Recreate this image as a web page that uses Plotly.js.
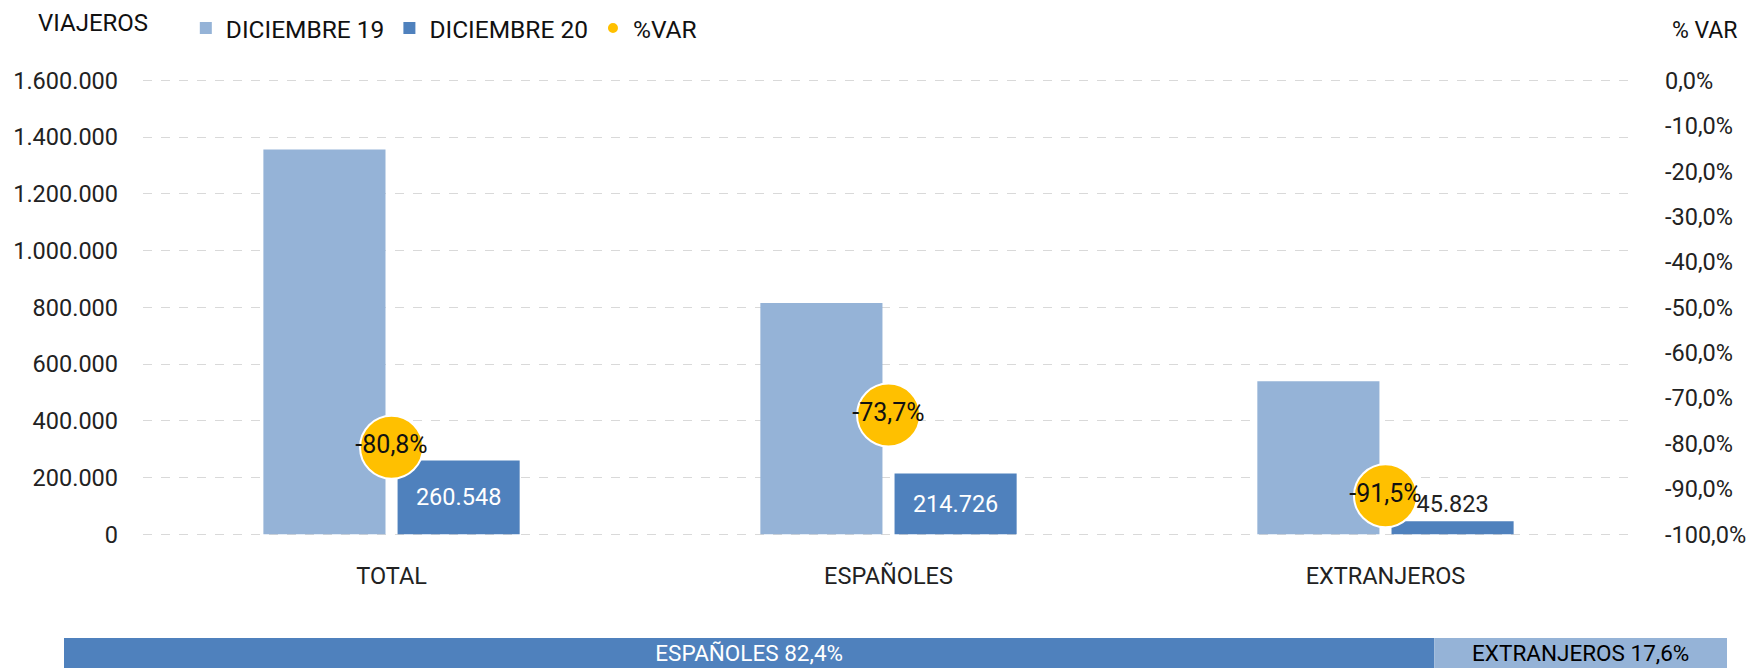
<!DOCTYPE html>
<html>
<head>
<meta charset="utf-8">
<script src="https://cdn.plot.ly/plotly-3.0.1.min.js"></script>
<style>
html,body{margin:0;padding:0;background:#fff;}
#chart{width:1753px;height:668px;}
</style>
</head>
<body>
<div id="chart"></div>
<script>
// ---- data ----
const categories = ['TOTAL', 'ESPAÑOLES', 'EXTRANJEROS'];
const dic19 = [1357000, 816000, 540000];
const dic20 = [260548, 214726, 45823];
const pctVar = [-0.808, -0.737, -0.915];
const shareLabels = ['ESPAÑOLES', 'EXTRANJEROS'];
const shareValues = [82.4, 17.6];
const seriesNames = ['DICIEMBRE 19', 'DICIEMBRE 20', '%VAR'];
const leftTickVals = [0, 200000, 400000, 600000, 800000, 1000000, 1200000, 1400000, 1600000];
const rightTickVals = [0, -0.1, -0.2, -0.3, -0.4, -0.5, -0.6, -0.7, -0.8, -0.9, -1.0];
const rightTickText = ['0,0%', '-10,0%', '-20,0%', '-30,0%', '-40,0%', '-50,0%', '-60,0%', '-70,0%', '-80,0%', '-90,0%', '-100,0%'];

// ---- helpers ----
const pctText = v => (v * 100).toFixed(1).replace('.', ',') + '%';

// ---- style ----
const FONT = 'Roboto, "Open Sans", sans-serif';
const FS = 23.5;
const C19 = '#95b3d7', C20 = '#4f81bd', CVAR = '#ffc000';
const PAD = 10000; // range padding so the edge gridlines are drawn
const LMAX = 1600000;

const traces = [
  {
    type: 'bar', name: seriesNames[0], x: categories, y: dic19,
    marker: {color: C19}, xaxis: 'x', yaxis: 'y', hoverinfo: 'skip'
  },
  {
    type: 'bar', name: seriesNames[1], x: categories, y: dic20,
    marker: {color: C20}, xaxis: 'x', yaxis: 'y',
    texttemplate: '%{y:,}', textposition: 'auto', insidetextanchor: 'middle',
    insidetextfont: {color: '#ffffff', size: FS, family: FONT},
    outsidetextfont: {color: '#222222', size: FS, family: FONT},
    constraintext: 'none', cliponaxis: false, hoverinfo: 'skip'
  },
  {
    type: 'scatter', mode: 'markers+text', name: seriesNames[2], x: categories, y: pctVar,
    xaxis: 'x', yaxis: 'y2',
    marker: {color: CVAR, size: 63, line: {color: '#ffffff', width: 2}},
    text: pctVar.map(pctText), textposition: 'middle center',
    textfont: {color: '#111111', size: 25, family: FONT},
    cliponaxis: false, hoverinfo: 'skip'
  },
  {
    type: 'bar', orientation: 'h', x: [shareValues[0]], y: [0], base: [0],
    width: 1, offset: -0.5, xaxis: 'x2', yaxis: 'y3', showlegend: false,
    marker: {color: C20},
    texttemplate: shareLabels[0] + ' %{x:.1f}%', textposition: 'inside', insidetextanchor: 'middle',
    insidetextfont: {color: '#ffffff', size: 22.5, family: FONT}, constraintext: 'none', hoverinfo: 'skip'
  },
  {
    type: 'bar', orientation: 'h', x: [shareValues[1]], y: [0], base: [shareValues[0]],
    width: 1, offset: -0.5, xaxis: 'x2', yaxis: 'y3', showlegend: false,
    marker: {color: C19},
    texttemplate: shareLabels[1] + ' %{x:.1f}%', textposition: 'inside', insidetextanchor: 'middle',
    insidetextfont: {color: '#000000', size: 22.5, family: FONT}, constraintext: 'none', hoverinfo: 'skip'
  }
];

const layout = {
  width: 1753, height: 668,
  margin: {l: 0, r: 0, t: 0, b: 0},
  paper_bgcolor: '#ffffff', plot_bgcolor: 'rgba(0,0,0,0)',
  font: {family: FONT, size: FS, color: '#222222'},
  separators: ',.',
  barmode: 'group', bargap: 0.46, bargroupgap: 0.09,
  showlegend: true,
  legend: {
    orientation: 'h', x: 0.106, xanchor: 'left', y: 0.958, yanchor: 'middle',
    font: {size: 24.5, color: '#111111', family: FONT}, itemsizing: 'constant',
    bgcolor: 'rgba(0,0,0,0)', traceorder: 'normal'
  },
  xaxis: {
    domain: [0.0816, 0.9321], type: 'category', showgrid: false, zeroline: false,
    showline: false, ticks: '', tickfont: {size: FS, color: '#222222'},
    ticklabelstandoff: 22, anchor: 'y'
  },
  yaxis: {
    domain: [0.1958, 0.8837], range: [-PAD, LMAX + PAD], tickvals: leftTickVals,
    tickformat: ',d',
    showgrid: true, gridcolor: '#d9d9d9', gridwidth: 1, griddash: 'dash',
    zeroline: false, showline: false, ticks: '', ticklabelstandoff: 24,
    tickfont: {size: FS, color: '#222222'}, anchor: 'x'
  },
  yaxis2: {
    overlaying: 'y', side: 'right', range: [-1 - PAD / LMAX, PAD / LMAX],
    tickvals: rightTickVals, ticktext: rightTickText,
    showgrid: false, zeroline: false, showline: false, ticks: '', ticklabelstandoff: 30,
    tickfont: {size: FS, color: '#222222'}, anchor: 'x'
  },
  xaxis2: {domain: [0.0365, 0.9852], range: [0, 100], visible: false, anchor: 'y3', fixedrange: true},
  yaxis3: {domain: [0, 0.045], range: [-0.5, 0.5], visible: false, anchor: 'x2', fixedrange: true},
  annotations: [
    {text: 'VIAJEROS', xref: 'paper', yref: 'paper', x: 36 / 1753, y: 1 - 23 / 668,
     xanchor: 'left', yanchor: 'middle', showarrow: false, font: {size: 24, color: '#111111'}},
    {text: '% VAR', xref: 'paper', yref: 'paper', x: 1740 / 1753, y: 1 - 31 / 668,
     xanchor: 'right', yanchor: 'middle', showarrow: false, font: {size: 23, color: '#111111'}}
  ]
};

Plotly.newPlot('chart', traces, layout, {displayModeBar: false, staticPlot: true});
</script>
</body>
</html>
